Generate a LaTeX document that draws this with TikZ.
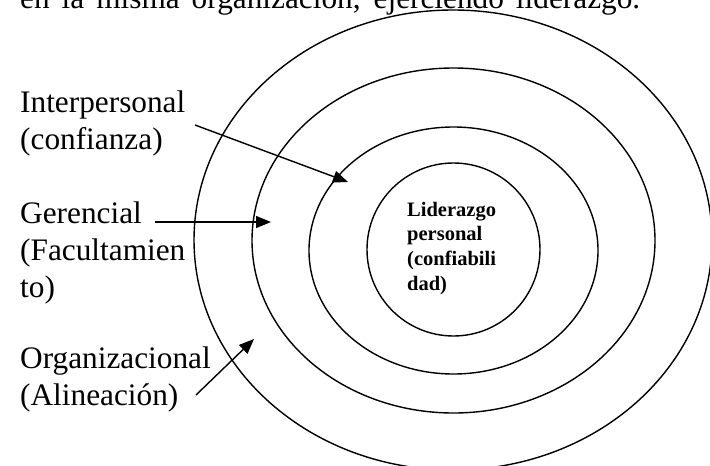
\documentclass[tikz,border=0pt]{standalone}
\usepackage{fontspec}
\setmainfont{Liberation Serif}
\usetikzlibrary{arrows.meta, shapes.geometric}
\tikzset{Rings/.style = {% styles of the ring picture
      ring/.style = {ellipse, draw, line width=1.4pt, inner sep=0pt},
  ringtext/.style = {anchor=base west, align=left, inner sep=0pt,
                     font=\fontsize{31.3}{36.8}\selectfont},
      core/.style = {anchor=base west, align=left, inner sep=0pt,
                     font=\fontsize{20.5}{24.6}\selectfont\bfseries},
     arrow/.style = {line width=1.4pt, -{Triangle[length=15pt,width=12pt]}}}
        }

\begin{document}
\begin{tikzpicture}[Rings, x=1pt, y=-1pt]
\useasboundingbox (0,0) rectangle (710,466);

% rings
\node (outer)  [ring, minimum width=518pt, minimum height=460pt] at (453,240) {};
\node (ring2)  [ring, minimum width=403pt, minimum height=345pt] at (453.5,240.5) {};
\node (ring3)  [ring, minimum width=289pt, minimum height=247pt] at (453.5,250.5) {};
\node (inner)  [ring, minimum width=173pt, minimum height=173pt] at (453.5,249.5) {};

% texts (base = last line)
\node (top)    [ringtext] at (20,8)
      {\makebox[620pt][s]{en la misma organización, ejerciendo liderazgo.}};
\node (core)   [core] at (407,290) {Liderazgo\\personal\\(confiabili\\dad)};
\node (inter)  [ringtext] at (20,149.5) {Interpersonal\\(confianza)};
\node (geren)  [ringtext] at (20,297) {Gerencial\\(Facultamien\\to)};
\node (organ)  [ringtext] at (20,405) {Organizacional\\(Alineación)};

% arrow ends
\coordinate (interS) at (195,125);
\coordinate (interE) at (348,182);
\coordinate (gerenS) at (155,222);
\coordinate (gerenE) at (271,222);
\coordinate (organS) at (196,395);
\coordinate (organE) at (254,339);

\draw [arrow] (interS) -- (interE);
\draw [arrow] (gerenS) -- (gerenE);
\draw [arrow] (organS) -- (organE);

\end{tikzpicture}
\end{document}
